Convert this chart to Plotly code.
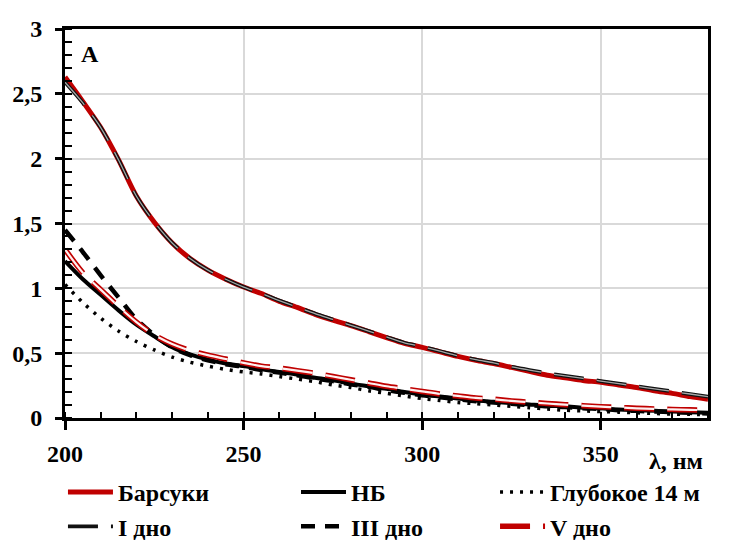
import plotly.graph_objects as go

# ---- data ----
wavelength = list(range(200, 381, 5))

barsuki = [2.63, 2.44, 2.24, 1.99, 1.71, 1.51, 1.35, 1.23, 1.14, 1.07, 1.01, 0.96, 0.90, 0.853,
           0.80, 0.755, 0.713, 0.667, 0.62, 0.575, 0.545, 0.51, 0.475, 0.445, 0.42, 0.39, 0.36,
           0.33, 0.31, 0.29, 0.275, 0.255, 0.235, 0.21, 0.19, 0.165, 0.145]
nb = [1.21, 1.07, 0.95, 0.83, 0.72, 0.63, 0.545, 0.49, 0.45, 0.42, 0.40, 0.375, 0.355, 0.335,
      0.31, 0.29, 0.265, 0.245, 0.225, 0.20, 0.18, 0.165, 0.15, 0.135, 0.125, 0.115, 0.105,
      0.095, 0.09, 0.08, 0.075, 0.065, 0.06, 0.055, 0.05, 0.045, 0.04]
glubokoe = [1.03, 0.89, 0.77, 0.67, 0.59, 0.525, 0.47, 0.43, 0.40, 0.375, 0.355, 0.34, 0.32, 0.30,
            0.28, 0.255, 0.235, 0.21, 0.19, 0.17, 0.15, 0.135, 0.12, 0.11, 0.10, 0.09, 0.08,
            0.07, 0.06, 0.055, 0.05, 0.045, 0.04, 0.035, 0.03, 0.028, 0.025]
dno1 = [2.59, 2.43, 2.24, 1.99, 1.71, 1.51, 1.35, 1.23, 1.14, 1.07, 1.01, 0.96, 0.905, 0.855,
        0.805, 0.76, 0.715, 0.67, 0.625, 0.58, 0.55, 0.515, 0.48, 0.45, 0.425, 0.395, 0.37,
        0.345, 0.325, 0.305, 0.285, 0.265, 0.245, 0.225, 0.205, 0.185, 0.165]
dno3 = [1.45, 1.28, 1.10, 0.93, 0.76, 0.64, 0.545, 0.485, 0.445, 0.415, 0.395, 0.37, 0.35, 0.33,
        0.305, 0.285, 0.26, 0.24, 0.215, 0.195, 0.175, 0.16, 0.145, 0.13, 0.12, 0.11, 0.10,
        0.09, 0.085, 0.075, 0.07, 0.06, 0.055, 0.05, 0.045, 0.04, 0.035]
dno5 = [1.30, 1.12, 0.99, 0.86, 0.74, 0.64, 0.57, 0.52, 0.485, 0.455, 0.425, 0.40, 0.385, 0.365,
        0.345, 0.32, 0.295, 0.27, 0.245, 0.225, 0.205, 0.185, 0.17, 0.155, 0.145, 0.132, 0.122,
        0.112, 0.103, 0.095, 0.087, 0.082, 0.075, 0.07, 0.066, 0.063, 0.06]

x_range = [200, 380]
y_range = [0, 3]
x_ticks = [200, 250, 300, 350]
y_ticks = [0, 0.5, 1, 1.5, 2, 2.5, 3]

FONT = "Liberation Serif"
RED = "#c00000"

fig = go.Figure()

def add(name, y, color, width, dash, legend, showlegend=True):
    fig.add_trace(go.Scatter(
        x=wavelength, y=y, mode="lines", name=name, showlegend=showlegend,
        legend=legend,
        line=dict(color=color, width=width, dash=dash, shape="spline", smoothing=0.8),
        hoverinfo="skip"))

add("Барсуки", barsuki, RED, 5, "solid", "legend")
add("НБ", nb, "black", 4, "solid", "legend2")
add("Глубокое 14 м", glubokoe, "black", 3.5, "3px,7px", "legend3")
add("I дно", dno1, "#111111", 3.8, "30px,13px", "legend")
add("I дно", dno1, "#a6a6a6", 1.3, "30px,13px", "legend", showlegend=False)
add("III дно", dno3, "black", 4.5, "14px,10px", "legend2")
add("V дно", dno5, RED, 5.5, "30px,13px", "legend3")
add("V дно", dno5, "#fdf0f0", 2.2, "30px,13px", "legend3", showlegend=False)

tickfont = dict(family=FONT, size=24, color="black", weight="bold")
legfont = dict(family=FONT, size=24, color="black", weight="bold")

def legend_at(x):
    return dict(orientation="v", xref="container", yref="container",
                x=x, xanchor="left", y=0.1316, yanchor="top", itemwidth=45,
                font=legfont, bgcolor="rgba(0,0,0,0)", tracegroupgap=0,
                itemclick=False, itemdoubleclick=False)

fig.update_layout(
    width=728, height=532,
    margin=dict(l=57, r=28, t=21, b=122, autoexpand=False),
    paper_bgcolor="white", plot_bgcolor="white",
    separators=", ",
    font=dict(family=FONT, color="black"),
    xaxis=dict(range=x_range, tickvals=x_ticks, showgrid=True, gridcolor="#d9d9d9", gridwidth=2,
               zeroline=False, showline=True, linecolor="black", linewidth=3, mirror=True,
               ticks="outside", ticklen=9, tickwidth=3, tickcolor="black",
               tickfont=tickfont, ticklabelstandoff=3,
               minor=dict(dtick=10, ticks="inside", ticklen=6, tickwidth=2, tickcolor="black",
                          showgrid=False)),
    yaxis=dict(range=y_range, tickvals=y_ticks, showgrid=True, gridcolor="#d9d9d9", gridwidth=2,
               zeroline=False, showline=True, linecolor="black", linewidth=3, mirror=True,
               ticks="outside", ticklen=7, tickwidth=3, tickcolor="black",
               tickfont=tickfont, ticklabelstandoff=8,
               minor=dict(dtick=0.1, ticks="inside", ticklen=7, tickwidth=2, tickcolor="black",
                          showgrid=False)),
    xaxis2=dict(range=x_range, tickvals=x_ticks[1:], overlaying="x", anchor="y", side="bottom",
                ticks="inside", ticklen=8, tickwidth=3, tickcolor="black",
                showticklabels=False, showgrid=False, zeroline=False, showline=False),
    yaxis2=dict(range=y_range, tickvals=y_ticks, overlaying="y", anchor="x", side="left",
                ticks="inside", ticklen=7, tickwidth=3, tickcolor="black",
                showticklabels=False, showgrid=False, zeroline=False, showline=False),
    legend=legend_at(0.0755),
    legend2=legend_at(0.3956),
    legend3=legend_at(0.669),
    annotations=[
        dict(text="λ, нм", xref="paper", yref="paper", x=0.95, y=-0.1105,
             xanchor="center", yanchor="middle", showarrow=False, font=legfont),
        dict(text="A", xref="paper", yref="paper", x=0.039, y=0.936,
             xanchor="center", yanchor="middle", showarrow=False, font=legfont),
    ],
)

fig.write_html("out.html")
